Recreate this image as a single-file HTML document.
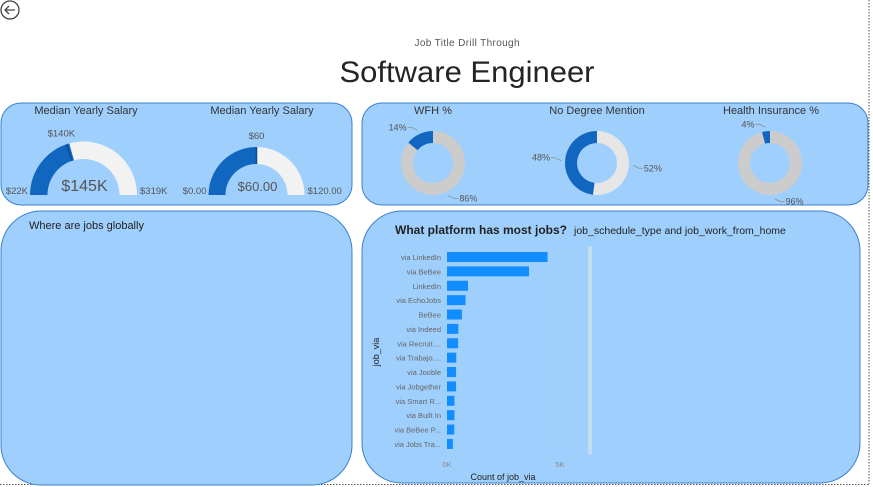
<!DOCTYPE html>
<html><head><meta charset="utf-8"><style>
html,body{margin:0;padding:0;background:#fff;width:873px;height:487px;overflow:hidden}
svg{display:block;font-family:"Liberation Sans",sans-serif}
</style></head><body>
<svg id="s" width="873" height="487" viewBox="0 0 873 487" xmlns="http://www.w3.org/2000/svg">
<line x1="869" y1="0" x2="869" y2="484" stroke="#555" stroke-dasharray="1.5,1.5"/>
<line x1="0" y1="484.5" x2="869" y2="484.5" stroke="#555" stroke-dasharray="1.5,1.5"/>
<g><circle cx="10" cy="10" r="9" fill="none" stroke="#444" stroke-width="1.3"/><path d="M15 10H5M9 6L5 10L9 14" fill="none" stroke="#444" stroke-width="1.3"/></g>
<text x="467" y="46" text-anchor="middle" font-size="10" fill="#555" textLength="105">Job Title Drill Through</text>
<text x="467" y="82" text-anchor="middle" font-size="30" fill="#252423" textLength="255" lengthAdjust="spacingAndGlyphs">Software Engineer</text>

<rect x="1" y="103" width="351" height="102" rx="20" fill="#9fcffd" stroke="#3b7fd0"/>
<rect x="362" y="103" width="506" height="102" rx="20" fill="#9fcffd" stroke="#3b7fd0"/>
<rect x="1" y="211" width="351" height="274" rx="40" fill="#9fcffd" stroke="#3b7fd0"/>
<rect x="362" y="211" width="498" height="272" rx="40" fill="#9fcffd" stroke="#3b7fd0"/>

<g font-size="11" fill="#333">
<text x="86" y="114" text-anchor="middle">Median Yearly Salary</text>
<text x="262" y="114" text-anchor="middle">Median Yearly Salary</text>
<text x="433" y="114" text-anchor="middle">WFH %</text>
<text x="597" y="114" text-anchor="middle">No Degree Mention</text>
<text x="771" y="114" text-anchor="middle">Health Insurance %</text>
</g>
<text x="29" y="229" font-size="11" fill="#222">Where are jobs globally</text>
<text x="395" y="234" font-size="12" font-weight="bold" fill="#222">What platform has most jobs?</text>
<text x="574" y="234" font-size="10.5" fill="#222">job_schedule_type and job_work_from_home</text>

<g id="gauges"></g><g id="donuts"></g><g id="bars"></g>
<rect x="588" y="246" width="4" height="209" rx="2" fill="#c6dcf0"/>
</svg>
<script>
const NS="http://www.w3.org/2000/svg";
function mk(p,t,a){const e=document.createElementNS(NS,t);for(const k in a)e.setAttribute(k,a[k]);p.appendChild(e);return e;}
// gauge data
const gaugeMin=[22,0], gaugeMax=[319,120], gaugeVal=[145,60], gaugeTarget=[140,60];
const gaugeLabels=[["$22K","$319K","$145K","$140K"],["$0.00","$120.00","$60.00","$60"]];
const gaugeGeo=[[83.5,195,53.5,36],[256.5,195,48,31]];
function arcPath(cx,cy,R,r,a0,a1){ // angles in rad from left (pi) going to right (0)
 const p=(rad,a)=>[cx+rad*Math.cos(a),cy-rad*Math.sin(a)];
 const [x0,y0]=p(R,a0),[x1,y1]=p(R,a1),[x2,y2]=p(r,a1),[x3,y3]=p(r,a0);
 const lg=Math.abs(a0-a1)>Math.PI?1:0;
 return `M${x0} ${y0}A${R} ${R} 0 ${lg} 1 ${x1} ${y1}L${x2} ${y2}A${r} ${r} 0 ${lg} 0 ${x3} ${y3}Z`;
}
const G=document.getElementById('gauges');
gaugeVal.forEach((v,i)=>{
 const [cx,cy,R,r]=gaugeGeo[i];const f=(v-gaugeMin[i])/(gaugeMax[i]-gaugeMin[i]);
 const a=Math.PI*(1-f);
 const bg=mk(G,'path',{d:arcPath(cx,cy,R,r,Math.PI,0),fill:'#f2f2f2'});
 
 const fg=mk(G,'path',{d:arcPath(cx,cy,R,r,Math.PI,a),fill:'#1167bf'});
 
 const tf=(gaugeTarget[i]-gaugeMin[i])/(gaugeMax[i]-gaugeMin[i]);const ta=Math.PI*(1-tf);
 const tl=mk(G,'line',{x1:cx+r*Math.cos(ta),y1:cy-r*Math.sin(ta),x2:cx+R*Math.cos(ta),y2:cy-R*Math.sin(ta),stroke:'#0b4f93','stroke-width':1.5});
 
 const L=gaugeLabels[i];
 let t=mk(G,'text',{x:cx-R-2,y:cy-1,'text-anchor':'end','font-size':9.5,fill:'#555'});t.textContent=L[0];
 
 t=mk(G,'text',{x:cx+R+3,y:cy-1,'font-size':9.5,fill:'#555'});t.textContent=L[1];
 
 t=mk(G,'text',{x:cx+1,y:cy-4,'text-anchor':'middle','font-size':i?13:16,fill:'#555'});t.textContent=L[2];
 
 t=mk(G,'text',{x:cx+(R+10)*Math.cos(ta)-(i?0:2),y:cy-(R+8)*Math.sin(ta),'text-anchor':'middle','font-size':9.5,fill:'#555'});t.textContent=L[3];
 
});
// donut data
const donutPct=[14,48,4];
const donutCx=[433,597,770];
const donutRest=['#cccccc','#e6e6e6','#cccccc'];
const D=document.getElementById('donuts');
donutPct.forEach((p,i)=>{
 const cx=donutCx[i],cy=163,R=32,r=20;
 const a1=2*Math.PI*p/100;
 const pt=(rad,a)=>[cx+rad*Math.sin(a),cy-rad*Math.cos(a)];
 function seg(s,e,col,name){
  const [x0,y0]=pt(R,s),[x1,y1]=pt(R,e),[x2,y2]=pt(r,e),[x3,y3]=pt(r,s);const lg=(e-s)>Math.PI?1:0;
  const el=mk(D,'path',{d:`M${x0} ${y0}A${R} ${R} 0 ${lg} 1 ${x1} ${y1}L${x2} ${y2}A${r} ${r} 0 ${lg} 0 ${x3} ${y3}Z`,fill:col});
  
 }
 seg(0,2*Math.PI-a1,donutRest[i],'donut-slice-rest');
 seg(2*Math.PI-a1,2*Math.PI-0.0001,'#1167bf','donut-slice-value');
 // labels
 const am=2*Math.PI-a1/2, bm=(2*Math.PI-a1)/2;
 const [lx,ly]=pt(R+4,am),[rx,ry]=pt(R+4,bm);
 mk(D,'polyline',{points:`${lx} ${ly} ${lx-6} ${ly-3} ${lx-10} ${ly-3}`,fill:'none',stroke:'#888','stroke-width':0.7});
 let t=mk(D,'text',{x:lx-11,y:ly,'text-anchor':'end','font-size':9,fill:'#555'});t.textContent=p+'%';
 
 mk(D,'polyline',{points:`${rx} ${ry} ${rx+6} ${ry+3} ${rx+10} ${ry+3}`,fill:'none',stroke:'#888','stroke-width':0.7});
 t=mk(D,'text',{x:rx+11,y:ry+6,'font-size':9,fill:'#555'});t.textContent=(100-p)+'%';
 
});
// bar data
const barCats=["via LinkedIn","via BeBee","LinkedIn","via EchoJobs","BeBee","via Indeed","via Recruit....","via Trabajo....","via Jooble","via Jobgether","via Smart R...","via Built In","via BeBee P...","via Jobs Tra..."];
const barVals=[4450,3630,930,820,660,500,490,410,400,400,330,330,320,260];
const xTicks=[0,5000];
const xTickLabels=["0K","5K"];
const B=document.getElementById('bars');
const x0=447,xs=113/5000,y0=257,step=14.38;
const X=v=>x0+v*xs, Y=i=>y0+i*step;
mk(B,'line',{x1:X(5000),y1:248,x2:X(5000),y2:452,stroke:'#b8d6f2','stroke-dasharray':'1,2'});
xTicks.forEach((v,i)=>{const t=mk(B,'text',{x:X(v),y:467,'text-anchor':'middle','font-size':7.5,fill:'#8a8a8a'});t.textContent=xTickLabels[i];
 });
barCats.forEach((c,i)=>{
 const r=mk(B,'rect',{x:x0,y:Y(i)-5,width:X(barVals[i])-x0,height:10,fill:'#118dff'});
 
 const t=mk(B,'text',{x:441,y:Y(i)+3,'text-anchor':'end','font-size':7.5,fill:'#666'});t.textContent=c;
 
});
let t=mk(B,'text',{x:503,y:480,'text-anchor':'middle','font-size':9,fill:'#222'});t.textContent='Count of job_via';

t=mk(B,'text',{x:0,y:0,'text-anchor':'middle','font-size':9,fill:'#222',transform:'translate(379,352) rotate(-90)'});t.textContent='job_via';

</script>
</body></html>
